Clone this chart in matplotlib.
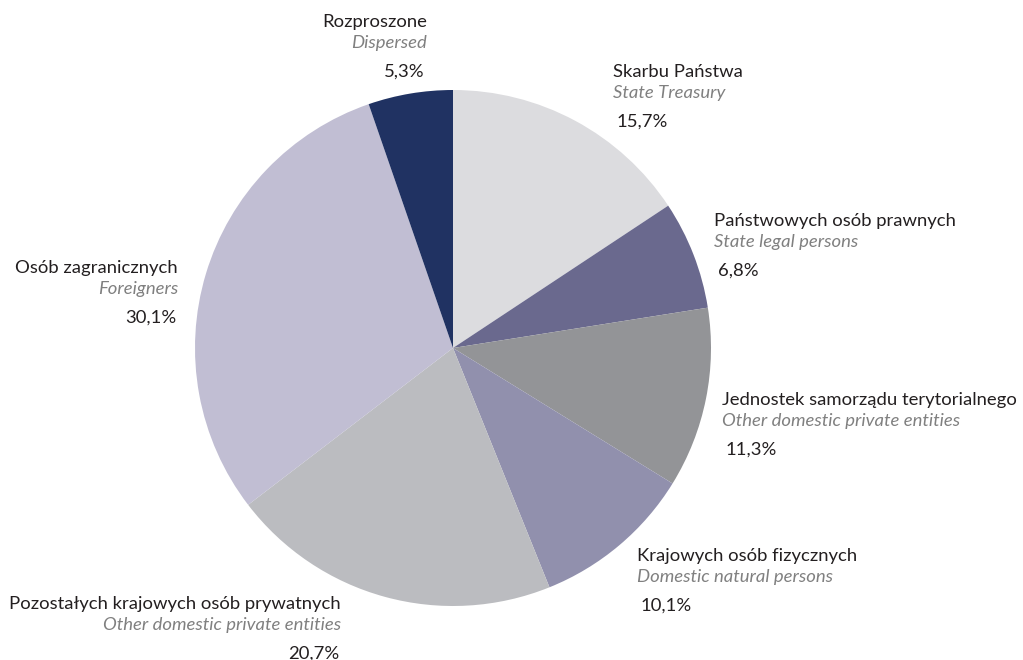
import matplotlib.pyplot as plt

# data
labels_pl = ['Skarbu Państwa', 'Państwowych osób prawnych', 'Jednostek samorządu terytorialnego',
             'Krajowych osób fizycznych', 'Pozostałych krajowych osób prywatnych',
             'Osób zagranicznych', 'Rozproszone']
labels_en = ['State Treasury', 'State legal persons', 'Other domestic private entities',
             'Domestic natural persons', 'Other domestic private entities',
             'Foreigners', 'Dispersed']
shares = [15.7, 6.8, 11.3, 10.1, 20.7, 30.1, 5.3]
colors = ['#dcdcdf', '#6a698e', '#939497', '#9190ad', '#bbbcc0', '#c1bed3', '#203262']

# label layout (pixel coords from top-left): x, y of first line, alignment
label_pos = [(613, 72, 'left'), (714, 221, 'left'), (722, 400, 'left'),
             (637, 556, 'left'), (341, 604, 'right'), (178, 268, 'right'),
             (427, 22, 'right')]

W, H = 1023, 660
plt.rcParams['font.family'] = ['Lato', 'DejaVu Sans']
fig = plt.figure(figsize=(W / 100, H / 100), dpi=100)
ax = fig.add_axes([0, 0, 1, 1])

ax.pie(shares, colors=colors, startangle=90, counterclock=False,
       center=(453, H - 348), radius=258, wedgeprops=dict(linewidth=0))
ax.set_xlim(0, W)
ax.set_ylim(0, H)
ax.set_aspect('equal')
ax.axis('off')

fs = 13.3
for pl, en, v, (x, y, ha) in zip(labels_pl, labels_en, shares, label_pos):
    ax.text(x, H - y, pl, ha=ha, va='center', fontsize=fs, color='#231f20')
    ax.text(x, H - y - 21, en, ha=ha, va='center', fontsize=fs, color='#808080', style='italic')
    dx = 4 if ha == 'left' else -2
    ax.text(x + dx, H - y - 50, f'{v:.1f}%'.replace('.', ','), ha=ha, va='center',
            fontsize=fs, color='#231f20')

fig.savefig('out.png', dpi=100, facecolor='white')
